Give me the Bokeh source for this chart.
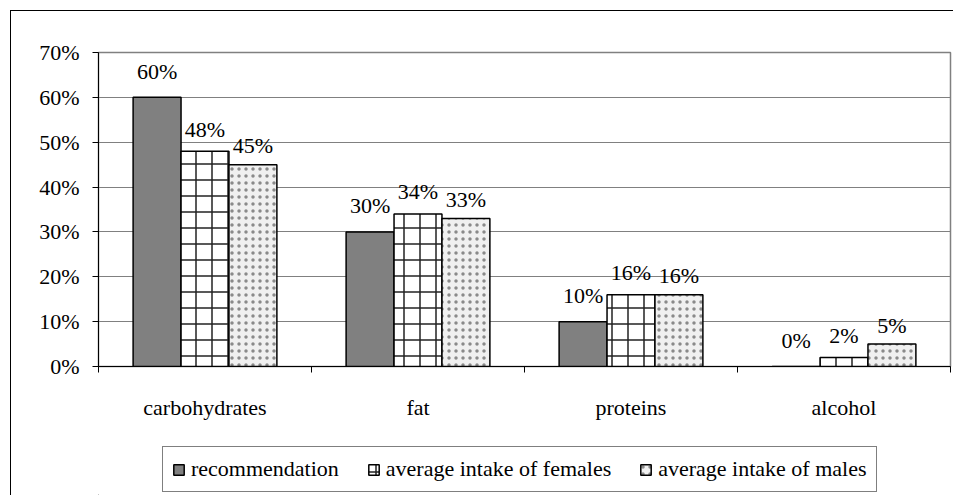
from bokeh.plotting import figure
from bokeh.models import (Range1d, LinearAxis, FixedTicker,
                          NumeralTickFormatter, ColumnDataSource, Legend, LegendItem)
from bokeh.layouts import column
from bokeh.transform import dodge
from bokeh.embed import file_html
from bokeh.resources import INLINE
from bokeh.core.properties import value

categories = ["carbohydrates", "fat", "proteins", "alcohol"]
series_names = ["recommendation", "average intake of females", "average intake of males"]
recommendation = [0.60, 0.30, 0.10, 0.00]
females = [0.48, 0.34, 0.16, 0.02]
males = [0.45, 0.33, 0.16, 0.05]
y_ticks = [0.0, 0.1, 0.2, 0.3, 0.4, 0.5, 0.6, 0.7]

FONT = "Liberation Serif"
FS = "22px"

n = len(categories)
centers = [i + 0.5 for i in range(n)]
bounds = list(range(n + 1))
src = ColumnDataSource(dict(
    x=centers,
    rec=recommendation, fem=females, mal=males,
    rec_t=[f"{round(v*100)}%" for v in recommendation],
    fem_t=[f"{round(v*100)}%" for v in females],
    mal_t=[f"{round(v*100)}%" for v in males],
))

styles_rec = dict(fill_color="#808080", line_color="black", line_width=1.5)
styles_fem = dict(fill_color="white", hatch_pattern="cross", hatch_color="#222222",
                  hatch_scale=16, hatch_weight=1.5, line_color="black", line_width=1.5)
styles_mal = dict(fill_color="#f0f0f0", hatch_pattern="dot", hatch_color="#8a8a8a",
                  hatch_scale=7, hatch_weight=2, line_color="black", line_width=1.5)

p = figure(width=942, height=420, output_backend="svg", toolbar_location=None,
           x_range=Range1d(0, n), y_range=Range1d(0, 0.7),
           x_axis_location=None, min_border_left=87, min_border_right=3,
           min_border_top=41, min_border_bottom=65)
p.outline_line_color = "#808080"
p.outline_line_width = 1.5
p.xgrid.visible = False
p.ygrid.grid_line_color = "#808080"
p.ygrid.grid_line_width = 1
p.ygrid.ticker = FixedTicker(ticks=y_ticks)

# y axis
ya = p.yaxis[0]
ya.ticker = FixedTicker(ticks=y_ticks)
ya.formatter = NumeralTickFormatter(format="0%")
ya.major_tick_out = 6
ya.major_tick_in = 0
ya.minor_tick_line_color = None
ya.axis_line_color = "black"
ya.major_tick_line_color = "black"
ya.major_label_text_font = FONT
ya.major_label_text_font_size = FS
ya.major_label_text_color = "black"
ya.major_label_standoff = 13

# x axis: labels at category centres, small ticks at category boundaries
xa = LinearAxis(ticker=FixedTicker(ticks=centers, minor_ticks=bounds),
                major_label_overrides={c: name for c, name in zip(centers, categories)},
                major_tick_out=0, major_tick_in=0,
                minor_tick_out=6, minor_tick_in=0, minor_tick_line_color="black",
                axis_line_color="black", major_label_text_font=FONT,
                major_label_text_font_size=FS, major_label_text_color="black",
                major_label_standoff=22)
p.add_layout(xa, "below")

w = 0.225
p.vbar(x=dodge("x", -w), top="rec", width=w, source=src, **styles_rec)
p.vbar(x="x", top="fem", width=w, source=src, **styles_fem)
p.vbar(x=dodge("x", w), top="mal", width=w, source=src, **styles_mal)

for off, col, yo in [(-w, "rec", -26), (0, "fem", -22), (w, "mal", -19)]:
    p.text(x=dodge("x", off), y=col, text=col + "_t", source=src,
           text_align="center", text_baseline="alphabetic", y_offset=yo,
           text_font=value(FONT), text_font_size=FS, text_color="black")

# legend strip below the chart (its renderers hold one point outside the visible range)
q = figure(width=942, height=64, output_backend="svg", toolbar_location=None,
           x_range=Range1d(0, 1), y_range=Range1d(0, 1),
           x_axis_location=None, y_axis_location=None,
           min_border_left=0, min_border_right=0, min_border_top=0, min_border_bottom=0)
q.outline_line_color = None
q.xgrid.visible = False
q.ygrid.visible = False
hidden = ColumnDataSource(dict(x=[-10], top=[-5], bottom=[-6]))
l1 = q.vbar(x="x", top="top", bottom="bottom", width=0.1, source=hidden, **styles_rec)
l2 = q.vbar(x="x", top="top", bottom="bottom", width=0.1, source=hidden, **styles_fem)
l3 = q.vbar(x="x", top="top", bottom="bottom", width=0.1, source=hidden, **styles_mal)

legend = Legend(items=[LegendItem(label=series_names[0], renderers=[l1]),
                       LegendItem(label=series_names[1], renderers=[l2]),
                       LegendItem(label=series_names[2], renderers=[l3])],
                orientation="horizontal", location=(64, 3),
                label_text_font=FONT, label_text_font_size=FS, label_text_color="black",
                glyph_width=13, glyph_height=13, label_standoff=6, spacing=28,
                padding=9, margin=0, border_line_color="black", border_line_width=1,
                background_fill_alpha=1)
q.add_layout(legend, "center")

layout = column(p, q, spacing=0)
layout.margin = (10, 0, 0, 10)
layout.styles = {"border-left": "1px solid black", "border-top": "1px solid black"}

open("out.html", "w").write(file_html(layout, INLINE))
